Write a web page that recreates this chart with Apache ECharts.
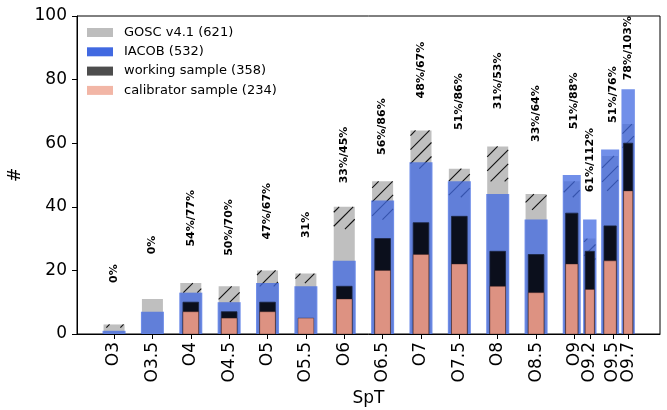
<!DOCTYPE html>
<html>
<head>
<meta charset="utf-8">
<script src="https://cdn.jsdelivr.net/npm/echarts@6/dist/echarts.min.js"></script>
<style>
  html, body { margin: 0; padding: 0; background: #fff; }
  #chart { width: 667px; height: 410px; }
</style>
</head>
<body>
<div id="chart"></div>
<script>
// Spectral subtypes (numeric position on the axis) and their tick labels
const spTypes  = [3, 3.5, 4, 4.5, 5, 5.5, 6, 6.5, 7, 7.5, 8, 8.5, 9, 9.2, 9.5, 9.7];
const spLabels = ['O3', 'O3.5', 'O4', 'O4.5', 'O5', 'O5.5', 'O6', 'O6.5', 'O7', 'O7.5', 'O8', 'O8.5', 'O9', 'O9.2', 'O9.5', 'O9.7'];

// Star counts per subtype
const gosc       = [3, 11, 16, 15, 20, 19, 40, 48, 64, 52, 59, 44, 48, 30, 56, 66];
const goscShared = [2, 11, 13, 10, 15, 16, 33, 36, 52, 43, 48, 39, 43, 23, 45, 58]; // hatched from here up to the GOSC total
const iacob      = [1, 7, 13, 10, 16, 15, 23, 42, 54, 48, 44, 36, 50, 36, 58, 77];
const working    = [0, 0, 10, 7, 10, 0, 15, 30, 35, 37, 26, 25, 38, 26, 34, 60];
const calibrator = [0, 0, 7, 5, 7, 5, 11, 20, 25, 22, 15, 13, 22, 14, 23, 45];

// Fractions written above each subtype
const fractions = ['0%', '0%', '54%/77%', '50%/70%', '47%/67%', '31%', '33%/45%', '56%/86%',
                   '48%/67%', '51%/86%', '31%/53%', '33%/64%', '51%/88%', '61%/112%', '51%/76%', '78%/103%'];

const legendNames = ['GOSC v4.1 (621)', 'IACOB (532)', 'working sample (358)', 'calibrator sample (234)'];

// ---- layout ----
const FONT = 'DejaVu Sans';
// height of each fraction label's centre above the tallest bar, in axis units
const labelLift = [16, 17, 20.4, 18.5, 18.6, 15.3, 16.3, 17.2, 19, 21.1, 20.6, 25.3, 23.3, 18.7, 17.3, 12.9];

function near(a, b) { return Math.abs(a - b) < 1e-6; }
function barWidth(x) {
  if (x < 8.9) return 0.3;
  if (near(x, 9.2) || near(x, 9.7)) return 0.175;
  return 0.235;
}
function barShift(x) {
  return (near(x, 9) || near(x, 9.5)) ? -0.035 : 0;
}

function rectFor(api, x, y0, y1, scale, inset) {
  const cx = x + barShift(x);
  const w = barWidth(x) * scale;
  const a = api.coord([cx - w / 2, y1]);
  const b = api.coord([cx + w / 2, y0]);
  return { x: a[0] + inset, y: a[1], width: b[0] - a[0] - 2 * inset, height: b[1] - a[1] };
}

function barSeries(name, bottoms, tops, scale, inset, fill, legendColor, stroke) {
  return {
    name: name,
    type: 'custom',
    coordinateSystem: 'cartesian2d',
    itemStyle: { color: legendColor },
    encode: { x: 0, y: [1, 2] },
    data: spTypes.map((x, i) => [x, bottoms[i], tops[i]]),
    renderItem: function (params, api) {
      const x = api.value(0), y0 = api.value(1), y1 = api.value(2);
      if (!(y1 > y0)) return null;
      const r = rectFor(api, x, y0, y1, scale, inset);
      const style = { fill: fill };
      if (stroke) { style.stroke = stroke; style.lineWidth = 0.8; }
      return { type: 'rect', shape: r, style: style };
    }
  };
}

function hatchSeries() {
  const step = 14;
  return {
    type: 'custom',
    coordinateSystem: 'cartesian2d',
    encode: { x: 0, y: [1, 2] },
    data: spTypes.map((x, i) => [x, goscShared[i], gosc[i]]),
    renderItem: function (params, api) {
      const x = api.value(0), y0 = api.value(1), y1 = api.value(2);
      if (!(y1 > y0)) return null;
      const r = rectFor(api, x, y0, y1, 1, 1);
      const children = [];
      const cMin = r.x + r.y, cMax = r.x + r.width + r.y + r.height;
      for (let c = Math.ceil(cMin / step) * step; c < cMax; c += step) {
        const xa = Math.max(r.x, c - (r.y + r.height));
        const xb = Math.min(r.x + r.width, c - r.y);
        if (xb - xa < 0.8) continue;
        children.push({
          type: 'line',
          shape: { x1: xa, y1: c - xa, x2: xb, y2: c - xb },
          style: { stroke: '#111', lineWidth: 1.1 }
        });
      }
      return { type: 'group', children: children };
    }
  };
}

function labelSeries() {
  return {
    type: 'custom',
    coordinateSystem: 'cartesian2d',
    encode: { x: 0, y: 1 },
    data: spTypes.map((x, i) => [x, Math.max(gosc[i], iacob[i]) + labelLift[i], i]),
    renderItem: function (params, api) {
      const p = api.coord([api.value(0), api.value(1)]);
      return {
        type: 'text',
        x: p[0], y: p[1],
        rotation: Math.PI / 2,
        style: {
          text: fractions[api.value(2)],
          fontFamily: FONT, fontSize: 11, fontWeight: 'bold',
          fill: '#000', align: 'center', verticalAlign: 'middle'
        }
      };
    }
  };
}

// Tick labels are split over two stacked bottom axes so the tightly packed
// late subtypes are all printed.
const tickSetA = spTypes.filter(t => !near(t, 9.5));
const tickSetB = spTypes.filter(t => near(t, 9.5));

function tickLabel(v) {
  const i = spTypes.findIndex(t => Math.abs(t - v) < 1e-6);
  return i >= 0 ? spLabels[i] : '';
}

function bottomAxis(values, withLine) {
  return {
    type: 'value',
    position: 'bottom',
    min: 2.517, max: 10.115,
    name: withLine ? 'SpT' : '',
    nameLocation: 'middle',
    nameGap: 53,
    nameTextStyle: { fontFamily: FONT, fontSize: 17, color: '#000' },
    splitLine: { show: false },
    axisLine: { show: withLine, lineStyle: { color: '#000', width: 1 } },
    axisTick: { show: true, inside: false, length: 5, lineStyle: { color: '#000' }, customValues: values },
    axisLabel: {
      customValues: values,
      rotate: 90,
      margin: 8,
      hideOverlap: false,
      showMinLabel: true,
      showMaxLabel: true,
      fontFamily: FONT, fontSize: 17, color: '#000',
      formatter: tickLabel
    },
    z: 5
  };
}

const zeros = spTypes.map(() => 0);

const chart = echarts.init(document.getElementById('chart'), null, { renderer: 'canvas' });
chart.setOption({
  animation: false,
  backgroundColor: '#fff',
  textStyle: { fontFamily: FONT },
  grid: {
    left: 77, right: 7, top: 16, bottom: 76,
    show: true, borderColor: '#000', borderWidth: 1,
    containLabel: false, outerBoundsMode: 'none'
  },
  legend: {
    data: legendNames,
    orient: 'vertical',
    left: 87, top: 26,
    padding: 0,
    icon: 'rect',
    itemWidth: 26, itemHeight: 9,
    itemGap: 6.3,
    textStyle: { fontFamily: FONT, fontSize: 13, color: '#000', lineHeight: 13, padding: [0, 0, 0, 6] },
    selectedMode: false
  },
  xAxis: [bottomAxis(tickSetA, true), bottomAxis(tickSetB, false)],
  yAxis: {
    type: 'value',
    min: 0, max: 100, interval: 20,
    name: '#',
    nameLocation: 'middle',
    nameGap: 46,
    nameTextStyle: { fontFamily: FONT, fontSize: 17, color: '#000' },
    splitLine: { show: false },
    axisLine: { show: true, lineStyle: { color: '#000', width: 1 } },
    axisTick: { show: true, inside: false, length: 5, lineStyle: { color: '#000' } },
    axisLabel: { margin: 10, fontFamily: FONT, fontSize: 17, color: '#000' },
    z: 5
  },
  series: [
    barSeries(legendNames[0], zeros, gosc, 1, 1, '#bfbfbf', '#bdbdbd'),
    hatchSeries(),
    barSeries(legendNames[1], zeros, iacob, 1, 0, 'rgba(65,105,225,0.75)', '#4169e1'),
    barSeries(legendNames[2], zeros, working, 0.68, 0, '#0b0f1c', '#4d4d4d', '#1a2440'),
    barSeries(legendNames[3], zeros, calibrator, 0.68, 0, '#dd9282', '#f2b6a6', 'rgba(60,30,30,0.5)'),
    labelSeries()
  ]
});
</script>
</body>
</html>
